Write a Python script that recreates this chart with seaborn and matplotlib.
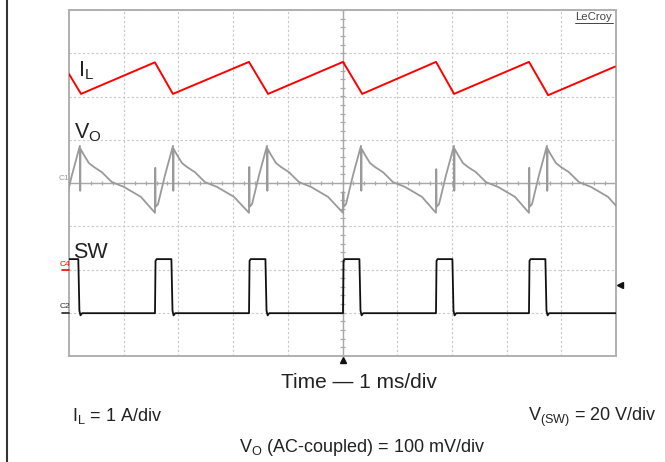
import numpy as np
import pandas as pd
import matplotlib
matplotlib.use("Agg")
import matplotlib.pyplot as plt
from matplotlib.lines import Line2D
import seaborn as sns

# ---------------- data ----------------
# time axis: ms from left edge of screen (1 ms/div, 10 div); values in screen divisions (center = 0)
switch_on_ms = [-0.13, 1.572, 3.291, 5.009, 6.709, 8.409, 10.118]

# inductor current I_L (red)
il_t = [0.0, 0.22, 1.57, 1.90, 3.29, 3.64, 5.01, 5.36, 6.71, 7.04, 8.41, 8.76, 9.98]
il_v = [2.52, 2.06, 2.79, 2.06, 2.80, 2.06, 2.80, 2.06, 2.80, 2.06, 2.80, 2.03, 2.69]

# output voltage ripple V_O (grey): one switching cycle, time after switch turn-on
vo_dt = [0.0, 0.005, 0.011, 0.055, 0.183, 0.329, 0.335, 0.340, 0.402, 0.494, 0.585, 0.731, 0.914, 1.133, 1.444]
vo_v = [-0.69, None, -0.55, -0.49, 0.18, 0.86, -0.18, 0.79, 0.65, 0.46, 0.37, 0.25, 0.02, -0.09, -0.32]
vo_spike = [0.35, 0.35, 0.37, -0.21, 0.32, 0.35, 0.35]   # turn-on spike top for each cycle

# switch node V(SW) (black): one switching cycle, time after switch turn-on
sw_dt = [0.0, 0.01, 0.03, 0.30, 0.32, 0.34, 0.37]
sw_v = [-3.01, -1.80, -1.76, -1.76, -2.95, -3.06, -3.01]

# ---------------- build tables ----------------
vo_rows, sw_rows = [], []
for k, t0 in enumerate(switch_on_ms):
    for dt, v in zip(vo_dt, vo_v):
        vo_rows.append((t0 + dt, vo_spike[k] if v is None else v))
    for dt, v in zip(sw_dt, sw_v):
        sw_rows.append((t0 + dt, v))
vo_df = pd.DataFrame(vo_rows, columns=["t", "v"])
sw_df = pd.DataFrame(sw_rows, columns=["t", "v"])
il_df = pd.DataFrame({"t": il_t, "v": il_v})

# ---------------- style ----------------
sns.set_style("white")
plt.rcParams["font.family"] = ["Liberation Sans", "DejaVu Sans"]
plt.rcParams["mathtext.fontset"] = "custom"
plt.rcParams["mathtext.rm"] = "Liberation Sans"
plt.rcParams["mathtext.it"] = "Liberation Sans:italic"

W, H = 665, 462
fig = plt.figure(figsize=(W / 100, H / 100), dpi=100)
fig.patch.set_facecolor("white")

def fx(x):
    return x / W

def fy(y):
    return 1 - y / H

L, R, T, B = 69, 616, 10, 356
ax = fig.add_axes([fx(L), fy(B), (R - L) / W, (B - T) / H])
ax.set_xlim(0, 10)
ax.set_ylim(-4, 4)
ax.set_xticks(range(0, 11))
ax.set_yticks(range(-4, 5))
ax.tick_params(length=0, labelbottom=False, labelleft=False)
ax.grid(True, color="#c8c8c8", linestyle=(0, (2, 2)), linewidth=0.8)
for s in ax.spines.values():
    s.set_color("#b0b0b0")
    s.set_linewidth(1.4)

# centre cross with minor ticks
ax.axhline(0, color="#a8a8a8", lw=1.0, zorder=1)
ax.axvline(5, color="#a8a8a8", lw=1.0, zorder=1)
minor_x = np.arange(0, 10.001, 0.2)
minor_y = np.arange(-4, 4.001, 0.2)
ax.vlines(minor_x, -0.05, 0.05, color="#a8a8a8", lw=0.9, zorder=1)
ax.hlines(minor_y, 5 - 0.04, 5 + 0.04, color="#a8a8a8", lw=0.9, zorder=1)

# traces
sns.lineplot(data=vo_df, x="t", y="v", sort=False, estimator=None, color="#9a9a9a", lw=1.3, ax=ax, zorder=3)
sns.lineplot(data=sw_df, x="t", y="v", sort=False, estimator=None, color="#111111", lw=1.3, ax=ax, zorder=4)
sns.lineplot(data=il_df, x="t", y="v", sort=False, estimator=None, color="#ff0000", lw=1.4, ax=ax, zorder=5)
ax.set_xlabel("")
ax.set_ylabel("")

# trace labels
lab = dict(fontsize=15.5, color="#222222", va="baseline", ha="left")
fig.text(fx(78), fy(76), r"I$_{\mathrm{L}}$", **lab)
fig.text(fx(74), fy(138), r"V$_{\mathrm{O}}$", **lab)
fig.text(fx(73), fy(258), "SW", **lab)

# channel markers
fig.text(fx(59), fy(179), "C1", fontsize=6, color="#999999", ha="left", va="center")
fig.text(fx(60), fy(265), "C4", fontsize=6, color="#ff0000", ha="left", va="center")
fig.add_artist(Line2D([fx(62), fx(69)], [fy(270), fy(270)], color="#ff0000", lw=1.2))
fig.text(fx(60), fy(307), "C2", fontsize=6, color="#333333", ha="left", va="center")
fig.add_artist(Line2D([fx(62), fx(69)], [fy(313), fy(313)], color="#222222", lw=1.2))
fig.add_artist(Line2D([fx(343)], [fy(360)], marker="^", color="#111111", markersize=4.5))
fig.add_artist(Line2D([fx(620)], [fy(285)], marker="<", color="#111111", markersize=4.5))

# LeCroy logo
fig.text(fx(594), fy(17), "LeCroy", fontsize=8.2, color="#444444", ha="center", va="center")
fig.add_artist(Line2D([fx(575), fx(613)], [fy(22.5), fy(22.5)], color="#444444", lw=0.7))

# left frame line
fig.add_artist(Line2D([fx(7), fx(7)], [0, 1], color="#333333", lw=1.5))

# captions
cap = dict(fontsize=13, color="#222222", va="baseline")
fig.text(fx(359), fy(383), "Time — 1 ms/div", ha="center", va="center", fontsize=15, color="#222222")
fig.text(fx(72), fy(421), r"I$_{\mathrm{L}}$ = 1 A/div", ha="left", **cap)
fig.text(fx(657), fy(421), r"V$_{\mathrm{(SW)}}$ = 20 V/div", ha="right", **cap)
fig.text(fx(362), fy(452), r"V$_{\mathrm{O}}$ (AC-coupled) = 100 mV/div", ha="center", **cap)

fig.savefig("out.png", dpi=100, facecolor="white")
